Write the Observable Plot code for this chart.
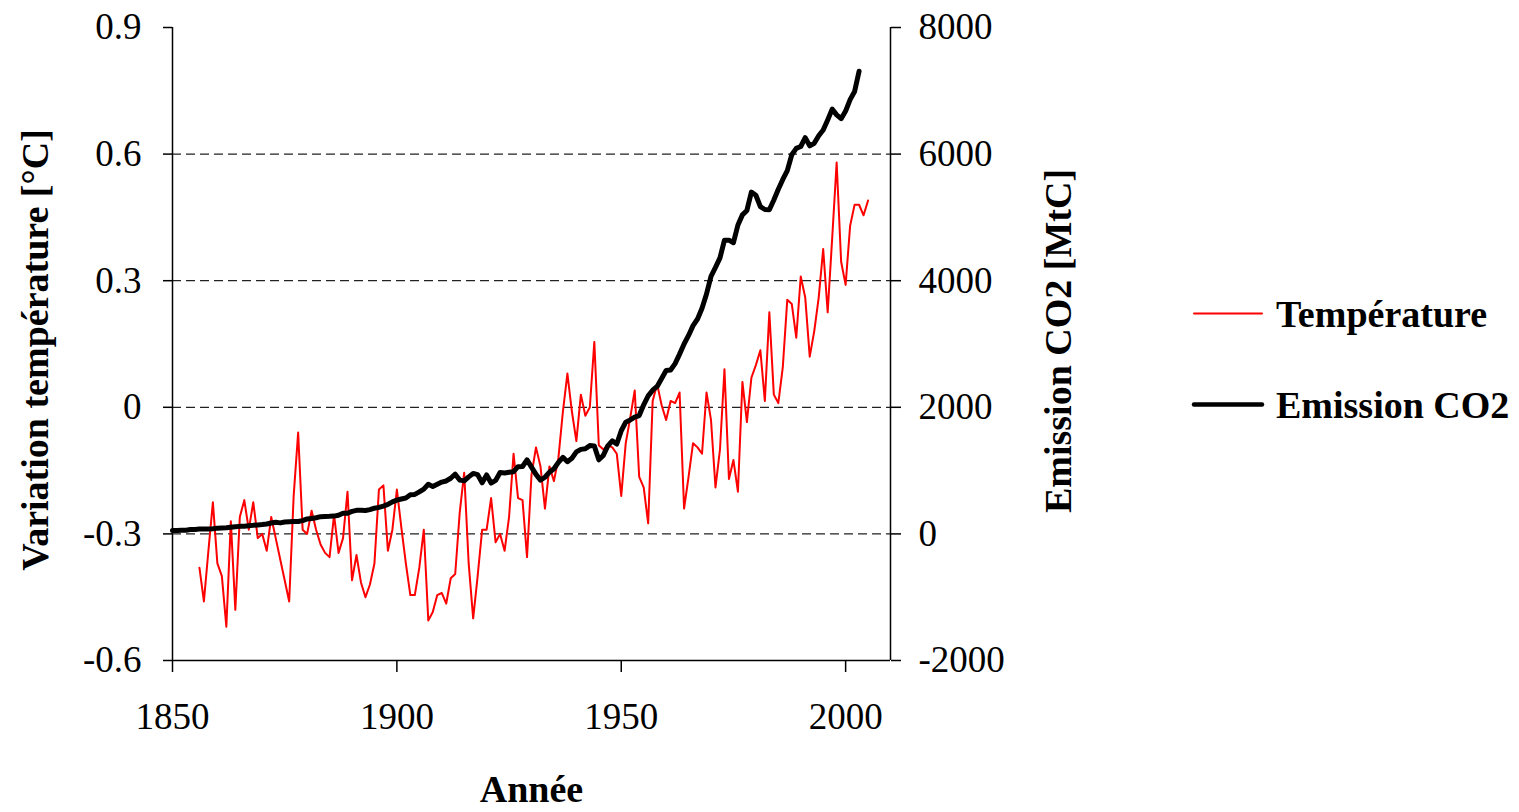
<!DOCTYPE html>
<html><head><meta charset="utf-8">
<script src="https://cdn.jsdelivr.net/npm/d3@7"></script>
<script src="https://cdn.jsdelivr.net/npm/@observablehq/plot@0.6"></script>
<style>
html,body{margin:0;padding:0;background:#fff;}
#wrap{position:relative;width:1519px;height:812px;overflow:hidden;}
</style></head><body><div id="wrap"></div>
<script>
// ---- data ----
const tempFirstYear = 1856;
const temperature = [
 -0.38,-0.46,-0.34,-0.225,-0.37,-0.40,-0.52,-0.27,-0.48,-0.26,
 -0.22,-0.29,-0.225,-0.31,-0.30,-0.34,-0.26,-0.31,-0.36,-0.41,
 -0.46,-0.21,-0.06,-0.29,-0.30,-0.245,-0.29,-0.325,-0.345,-0.355,
 -0.255,-0.345,-0.31,-0.20,-0.41,-0.35,-0.415,-0.45,-0.42,-0.37,
 -0.195,-0.185,-0.34,-0.29,-0.195,-0.285,-0.37,-0.445,-0.445,-0.38,
 -0.29,-0.505,-0.485,-0.445,-0.44,-0.465,-0.405,-0.395,-0.25,-0.155,
 -0.37,-0.50,-0.40,-0.29,-0.29,-0.215,-0.32,-0.30,-0.34,-0.26,
 -0.11,-0.215,-0.22,-0.355,-0.16,-0.095,-0.14,-0.24,-0.14,-0.175,
 -0.12,-0.01,0.08,-0.01,-0.08,0.03,-0.02,0.00,0.155,-0.09,
 -0.10,-0.09,-0.095,-0.11,-0.21,-0.085,-0.025,0.04,-0.165,-0.19,
 -0.275,0.015,0.055,0.005,-0.03,0.015,0.01,0.035,-0.24,-0.165,
 -0.085,-0.095,-0.11,0.035,-0.03,-0.19,-0.10,0.09,-0.17,-0.125,
 -0.20,0.06,-0.035,0.07,0.10,0.135,0.015,0.225,0.03,0.01,
 0.095,0.255,0.245,0.165,0.31,0.26,0.12,0.18,0.26,0.375,
 0.225,0.40,0.58,0.345,0.29,0.43,0.48,0.48,0.455,0.49
];
const co2FirstYear = 1850;
const co2Emission = [
 54,54,57,59,69,71,76,77,78,83,
 91,95,97,104,112,119,122,130,135,142,
 147,156,173,184,174,188,191,194,196,210,
 236,243,256,272,275,277,281,295,327,327,
 356,372,374,370,383,406,419,440,465,507,
 534,552,566,617,624,663,707,784,750,785,
 819,836,879,943,850,838,901,955,936,806,
 932,803,845,970,963,975,983,1062,1065,1170,
 1055,940,850,895,975,1030,1130,1210,1140,1195,
 1295,1335,1345,1395,1390,1170,1240,1390,1470,1420,
 1630,1765,1800,1845,1870,2040,2180,2270,2330,2455,
 2580,2590,2690,2840,3000,3135,3290,3395,3565,3790,
 4070,4210,4360,4640,4640,4600,4880,5040,5110,5400,
 5350,5170,5125,5120,5275,5445,5600,5740,5990,6090,
 6120,6260,6130,6170,6290,6380,6540,6710,6620,6560,
 6680,6860,6990,7310
];
const xDomain = [1850, 2010];
const xTicks = [1850, 1900, 1950, 2000];
const tempDomain = [-0.6, 0.9];
const tempTicks = [-0.6, -0.3, 0, 0.3, 0.6, 0.9];
const gridTicks = [-0.3, 0, 0.3, 0.6];
const co2Domain = [-2000, 8000];
const co2Ticks = [-2000, 0, 2000, 4000, 6000, 8000];
const seriesNames = ["Température", "Emission CO2"];
const seriesColors = ["#ff0000", "#000000"];
const seriesWidths = [2, 5];
const xTitle = "Année";
const yTitle = "Variation température [°C]";
const y2Title = "Emission CO2 [MtC]";

// ---- build tables ----
const tempData = temperature.map((v, i) => ({year: tempFirstYear + i, value: v}));
const co2Data = co2Emission.map((v, i) => ({year: co2FirstYear + i, value: v}));
const k = (tempDomain[1] - tempDomain[0]) / (co2Domain[1] - co2Domain[0]);
const toT = c => tempDomain[0] + (c - co2Domain[0]) * k;
const fromT = t => co2Domain[0] + (t - tempDomain[0]) / k;

const font = "'Liberation Serif', 'Times New Roman', Times, serif";
const fmtT = t => (Math.abs(t) < 1e-9 ? "0" : t.toFixed(1));

const chart = Plot.plot({
  width: 1519, height: 812,
  marginLeft: 172, marginRight: 629, marginTop: 27, marginBottom: 152,
  style: {fontFamily: font, background: "white", color: "black", overflow: "visible"},
  x: {domain: xDomain},
  y: {domain: tempDomain},
  marks: [
    Plot.gridY({ticks: gridTicks, stroke: "#222", strokeOpacity: 1, strokeDasharray: "9,5", strokeWidth: 1.2}),
    Plot.ruleX([xDomain[0], xDomain[1]], {stroke: "black", strokeWidth: 1.5}),
    Plot.ruleY([tempDomain[0]], {stroke: "black", strokeWidth: 1.5}),
    Plot.axisY({anchor: "left", ticks: tempTicks, tickFormat: fmtT, tickSize: 9, tickPadding: 22, fontSize: 37, label: null, strokeWidth: 1.5}),
    Plot.axisY({anchor: "right", ticks: co2Ticks.map(toT), tickFormat: t => String(Math.round(fromT(t))), tickSize: 10, tickPadding: 18, fontSize: 37, label: null, strokeWidth: 1.5}),
    Plot.axisX({ticks: xTicks, tickFormat: d => String(d), tickSize: 12, tickPadding: 30, fontSize: 37, label: null, strokeWidth: 1.5}),
    Plot.line(tempData, {x: "year", y: "value", stroke: seriesColors[0], strokeWidth: seriesWidths[0]}),
    Plot.line(co2Data, {x: "year", y: d => toT(d.value), stroke: seriesColors[1], strokeWidth: seriesWidths[1]}),
    Plot.text([yTitle], {text: d => d, frameAnchor: "left", dx: -137, dy: 6, rotate: -90, textAnchor: "middle", lineAnchor: "middle", fontSize: 38, fontWeight: "bold"}),
    Plot.text([y2Title], {text: d => d, frameAnchor: "right", dx: 168, dy: -3, rotate: -90, textAnchor: "middle", lineAnchor: "middle", fontSize: 38, fontWeight: "bold"}),
    Plot.text([xTitle], {text: d => d, frameAnchor: "bottom", dy: 129, textAnchor: "middle", lineAnchor: "middle", fontSize: 38, fontWeight: "bold"})
  ]
});
const wrap = document.getElementById("wrap");
wrap.appendChild(chart);

// ---- legend ----
const leg = d3.select(wrap).append("svg")
  .attr("width", 339).attr("height", 160)
  .style("position", "absolute").style("left", "1180px").style("top", "280px")
  .style("font-family", font);
seriesNames.forEach((name, i) => {
  const g = leg.append("g").attr("transform", `translate(0,${i * 91})`);
  g.append("line").attr("x1", 14).attr("x2", 82).attr("y1", 33.5).attr("y2", 33.5)
    .attr("stroke", seriesColors[i]).attr("stroke-width", i === 0 ? 2 : 4.5).attr("stroke-linecap", "round");
  g.append("text").attr("x", 96).attr("y", 46.5).attr("font-size", 38).attr("font-weight", "bold").text(name);
});
</script></body></html>
